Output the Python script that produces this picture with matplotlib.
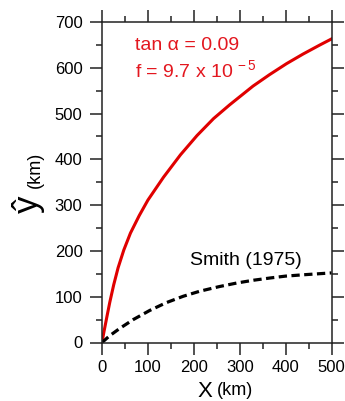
import matplotlib
matplotlib.use("Agg")
import matplotlib.pyplot as plt
from matplotlib.ticker import MultipleLocator

plt.rcParams['font.family'] = ['Liberation Sans', 'DejaVu Sans']
plt.rcParams['mathtext.fontset'] = 'custom'
plt.rcParams['mathtext.rm'] = 'Liberation Sans'

# red curve (tan alpha = 0.09)
x_red = [0, 4, 11, 17, 25.5, 35, 47.5, 62, 81, 100, 134, 171, 207, 243, 278, 329, 365, 402, 438, 475, 500]
y_red = [0, 22, 58, 88, 126, 163, 202, 239, 277, 311, 361, 410, 452, 489, 519, 560, 585, 609, 630, 650, 663]

# Smith (1975), dashed black
x_smith = [0, 17, 39, 68, 104, 140, 177, 213, 255, 294, 330, 367, 400, 440, 500]
y_smith = [0, 15, 31, 50, 70, 87, 101, 112, 122, 130, 136, 141, 145, 148, 152]

red = '#e00000'
txt_red = '#e3171f'
ink = '#222222'

fig = plt.figure(figsize=(3.45, 4.01), dpi=100)
ax = fig.add_axes([102 / 345, 1 - 342.5 / 401, 229.5 / 345, 320.5 / 401])

ax.plot(x_red, y_red, color=red, lw=2.2)
ax.plot(x_smith, y_smith, color='black', lw=2.3, linestyle=(0, (2.6, 1.4)))

ax.set_xlim(0, 500)
ax.set_ylim(0, 700)
ax.xaxis.set_major_locator(MultipleLocator(100))
ax.xaxis.set_minor_locator(MultipleLocator(50))
ax.yaxis.set_major_locator(MultipleLocator(100))
ax.yaxis.set_minor_locator(MultipleLocator(50))
ax.tick_params(which='both', direction='out', top=True, right=True,
               width=1.1, color=ink, labelsize=12)
ax.tick_params(axis='y', which='major', length=8.5, pad=5.5)
ax.tick_params(axis='y', which='minor', length=4)
ax.tick_params(axis='x', which='major', length=8.5, pad=4)
ax.tick_params(axis='x', which='minor', length=4.5)
for s in ax.spines.values():
    s.set_linewidth(1.1)
    s.set_color(ink)

ax.text(72, 639, 'tan α = 0.09', color=txt_red, fontsize=14)
ax.text(72, 578, r'f = 9.7 x 10$^{\,-5}$', color=txt_red, fontsize=14)
ax.text(192, 169, 'Smith (1975)', color='black', fontsize=14)

# axis titles, placed by hand
fig.text(198 / 345, 1 - 397 / 401, 'X', fontsize=16, ha='left', va='baseline')
fig.text(217 / 345, 1 - 395 / 401, '(km)', fontsize=13, ha='left', va='baseline')
fig.text(28.5 / 345, 1 - 204 / 401, 'ŷ', fontsize=25, rotation=90, ha='center', va='center')
fig.text(35 / 345, 1 - 170 / 401, '(km)', fontsize=13, rotation=90, ha='center', va='center')

fig.savefig('out.png', dpi=100)
